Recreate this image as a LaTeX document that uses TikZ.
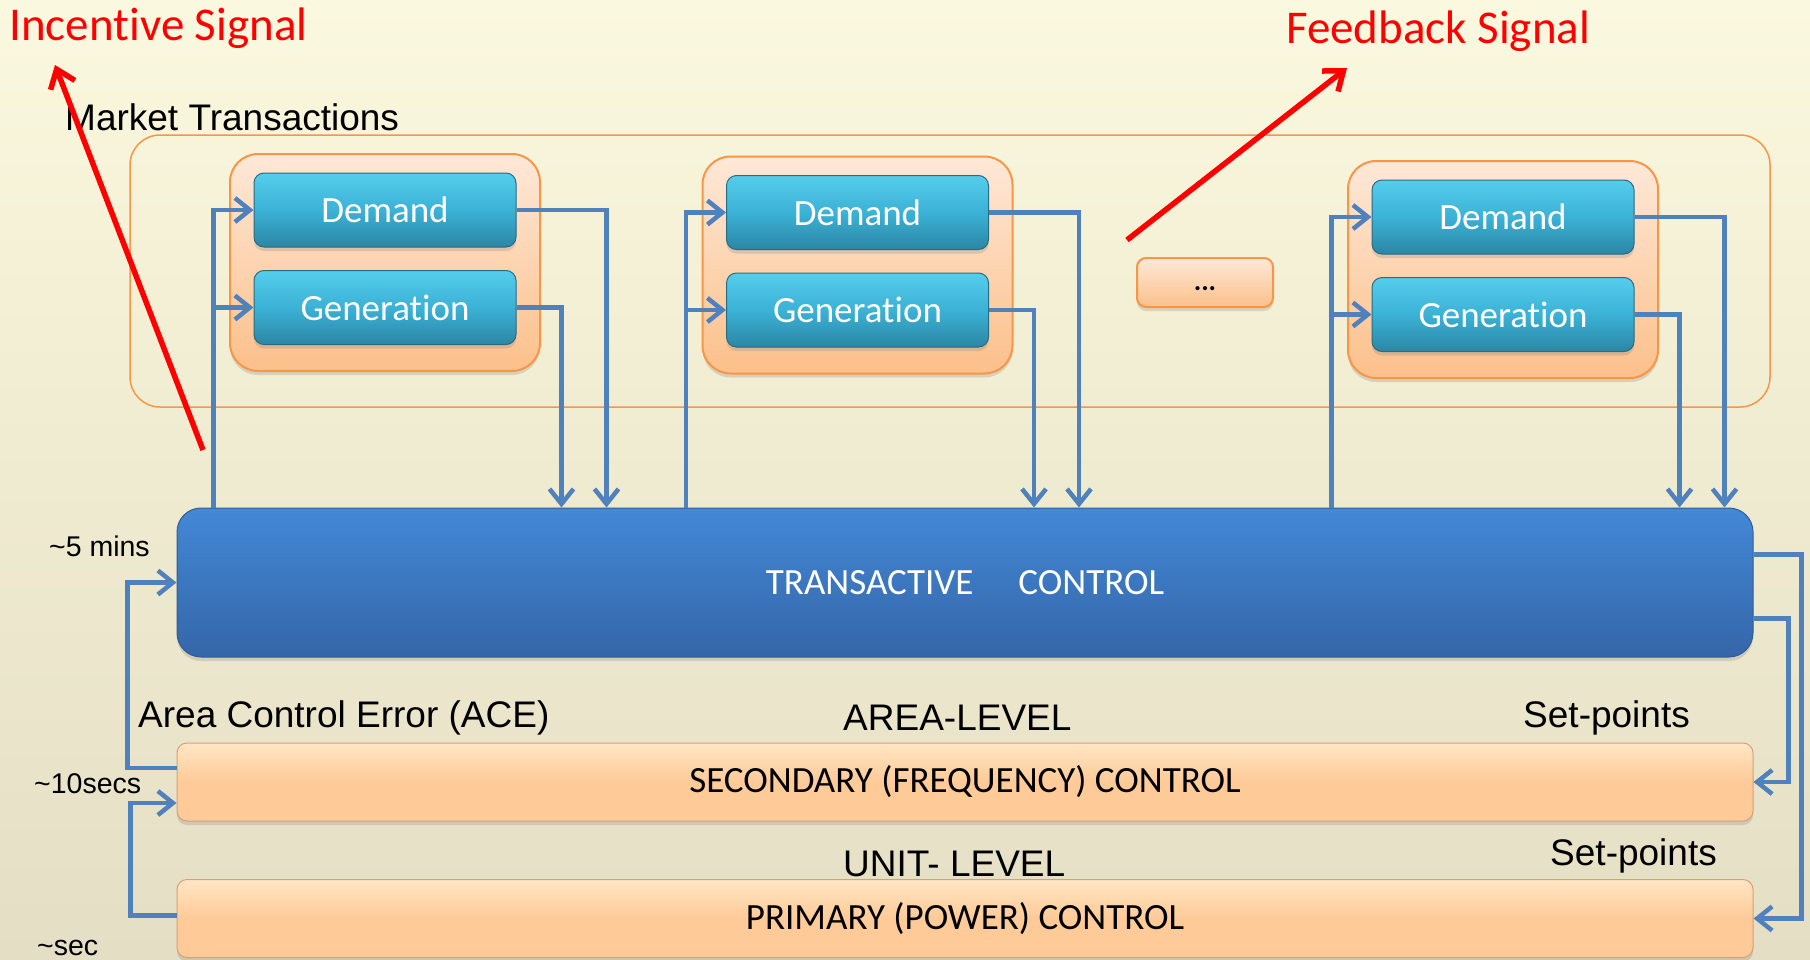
\documentclass[tikz,border=0pt]{standalone}
\usepackage{fontspec}
\setmainfont{Liberation Sans}
\newfontfamily\calibri[Ligatures=NoCommon]{Carlito}
\usepackage{tikz}
\usetikzlibrary{arrows.meta,shadows}

\definecolor{bgtop}{RGB}{250,248,222}
\definecolor{bgbot}{RGB}{228,222,196}
\definecolor{orangeedge}{RGB}{247,150,70}
\definecolor{grptop}{RGB}{254,232,216}
\definecolor{grpbot}{RGB}{252,192,138}
\definecolor{cyantop}{RGB}{85,205,235}
\definecolor{cyanmid}{RGB}{59,178,214}
\definecolor{cyanbot}{RGB}{44,134,164}
\definecolor{cyanedge}{RGB}{38,108,132}
\definecolor{tctop}{RGB}{67,136,214}
\definecolor{tcbot}{RGB}{52,102,168}
\definecolor{tcedge}{RGB}{48,92,152}
\definecolor{peach}{RGB}{254,202,152}
\definecolor{peachtop}{RGB}{255,230,195}
\definecolor{peachedge}{RGB}{215,160,118}
\definecolor{flowblue}{RGB}{79,129,189}

\tikzset{
	flow/.style={draw=flowblue, line width=4.5pt, -{Straight Barb[length=15pt,width=24pt]}},
	signal/.style={draw=red, line width=5.5pt, -{Straight Barb[length=17pt,width=26pt]}},
	boxshadow/.style={drop shadow={shadow xshift=0pt, shadow yshift=-4pt, opacity=.25}},
	market/.style={draw=orangeedge, line width=1.5pt, rounded corners=30pt, minimum width=1640pt, minimum height=272pt},
	group/.style={draw=orangeedge, line width=2pt, rounded corners=28pt, top color=grptop, bottom color=grpbot, minimum width=310pt, minimum height=217pt, boxshadow},
	unitbox/.style={draw=cyanedge, line width=1pt, rounded corners=10pt, top color=cyantop, bottom color=cyanbot, middle color=cyanmid, text=white, font=\calibri\fontsize{37}{40}\selectfont, minimum width=262pt, minimum height=74pt, inner sep=0pt, boxshadow},
	dotbox/.style={draw=orangeedge, line width=2pt, rounded corners=9pt, top color=grptop, bottom color=grpbot, minimum width=136pt, minimum height=49pt, inner sep=0pt, text height=22pt, text depth=6pt, font=\calibri\bfseries\fontsize{28}{30}\selectfont, boxshadow},
	tcbox/.style={draw=tcedge, line width=1pt, rounded corners=24pt, top color=tctop, bottom color=tcbot, text=white, font=\calibri\fontsize{37}{40}\selectfont, minimum width=1576pt, minimum height=149pt, inner sep=0pt, boxshadow},
	ctrlbox/.style={draw=peachedge, line width=1pt, rounded corners=10pt, top color=peachtop, bottom color=peach, middle color=peach, font=\calibri\fontsize{37}{40}\selectfont, minimum width=1576pt, minimum height=78pt, inner sep=0pt, boxshadow},
	lbl/.style={inner sep=0pt, anchor=base west, font=\fontsize{37}{42}\selectfont},
	timelbl/.style={inner sep=0pt, anchor=base west, font=\fontsize{28.5}{30}\selectfont},
	redlbl/.style={inner sep=0pt, anchor=base west, text=red, font=\calibri\fontsize{47}{52}\selectfont}
}

\begin{document}
\begin{tikzpicture}[x=1pt, y=1pt]
	\useasboundingbox (0,0) rectangle (1810,-959);
	\fill[top color=bgtop, bottom color=bgbot] (0,0) rectangle (1810,-959);

	\node[market] (mkt) at (950,-271) {};
	\node[lbl] (mktlbl) at (65,-130) {Market Transactions};
	\foreach \i/\x/\y in {1/385/262.5, 2/857.5/265, 3/1503/269.5} {
		\node[group] (grp\i) at (\x,-\y) {};
		\node[unitbox] (dem\i) at (\x,-\y+52.5) {Demand};
		\node[unitbox] (gen\i) at (\x,-\y-45) {Generation};
	}
	\node[dotbox] (dots) at (1205,-282.5) {...};

	\node[tcbox] (tc) at (965,-582.5) {TRANSACTIVE\hspace{45pt}CONTROL};
	\node[ctrlbox] (sec) at (965,-782) {SECONDARY (FREQUENCY) CONTROL};
	\node[ctrlbox] (pri) at (965,-918.5) {PRIMARY (POWER) CONTROL};

	\foreach \i in {1,2,3} {
		\draw[flow] ([xshift=-40pt]dem\i.west |- tc.north) |- (dem\i.west);
		\draw[flow] ([xshift=-40pt]gen\i.west |- tc.north) |- (gen\i.west);
		\draw[flow] (dem\i.east) -| ([xshift=90pt]dem\i.east |- tc.north);
		\draw[flow] (gen\i.east) -| ([xshift=45pt]gen\i.east |- tc.north);
	}

	\draw[flow] ([yshift=14pt]sec.west) -- ++(-49,0) |- (tc.west);
	\draw[flow] ([yshift=3pt]pri.west) -- ++(-46,0) |- ([yshift=-21pt]sec.west);
	\draw[flow] ([yshift=28pt]tc.east) -- ++(48,0) |- (pri.east);
	\draw[flow] ([yshift=-36pt]tc.east) -- ++(35,0) |- (sec.east);

	\node[timelbl] (t5min) at (49,-556) {\textasciitilde 5 mins};
	\node[timelbl] (t10s) at (34,-793) {\textasciitilde 10secs};
	\node[timelbl] (t1s) at (37,-955) {\textasciitilde sec};
	\node[lbl] (ace) at (138,-727) {Area Control Error (ACE)};
	\node[lbl] (area) at (843,-730) {AREA-LEVEL};
	\node[lbl] (unit) at (843,-876) {UNIT- LEVEL};
	\node[lbl] (setsec) at (1523,-727) {Set-points};
	\node[lbl] (setpri) at (1550,-865) {Set-points};

	\coordinate (inc0) at (203,-450);
	\coordinate (inc1) at (55,-65);
	\coordinate (fb0) at (1127,-240);
	\coordinate (fb1) at (1347,-68);
	\draw[signal] (inc0) -- (inc1);
	\draw[signal] (fb0) -- (fb1);
	\node[redlbl] (inclbl) at (9,-40) {Incen\kern0pt tive Signal};
	\node[redlbl] (fblbl) at (1286,-43) {Feedback Signal};
\end{tikzpicture}
\end{document}
